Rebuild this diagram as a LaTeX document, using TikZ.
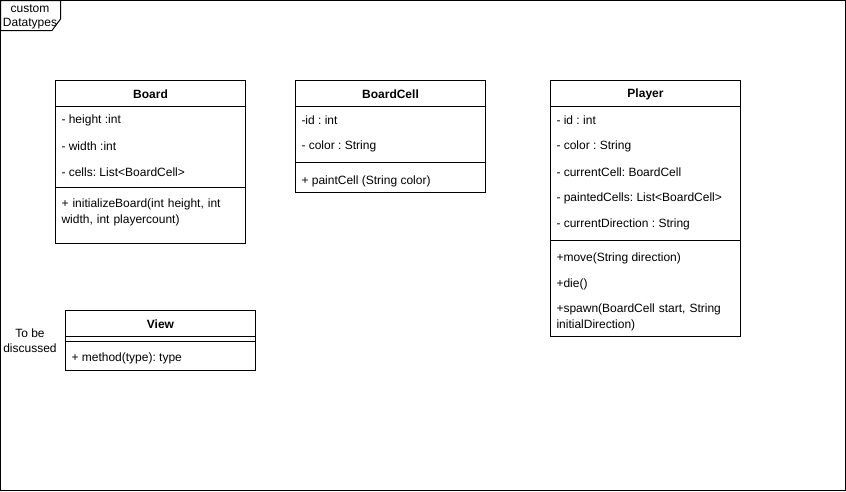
\documentclass[tikz,border=0pt]{standalone}
\usepackage{fontspec}
\setmainfont{Liberation Sans}
\frenchspacing
\begin{document}
\begin{tikzpicture}[x=1pt,y=-1pt,line width=1pt,
  every node/.style={font=\fontsize{12}{16}\selectfont\frenchspacing,inner sep=0pt},
  box/.style={draw=black,fill=white},
  title/.style={font=\fontsize{12}{14}\selectfont\bfseries,anchor=center},
  item/.style={anchor=west},
  wrapitem/.style={anchor=north west,align=left,text width=180pt}]
\useasboundingbox (0,0) rectangle (846,491);
% frame
\draw[box] (0.5,0.5) rectangle (845.5,490.5);
\draw[fill=white] (0.5,0.5) -- (60.5,0.5) -- (60.5,19) -- (52,30.5) -- (0.5,30.5) -- cycle;
\node[align=center,font=\fontsize{12}{14}\selectfont] (tab) at (30,16.5) {custom\\Datatypes};
% Board
\draw[box] (55.5,80.5) rectangle (245.5,243.5);
\draw (55.5,106.5) -- (245.5,106.5);
\draw (55.5,187.5) -- (245.5,187.5);
\node[title] (board) at (150.5,94.5) {Board};
\node[item] (b1) at (61,120.5) {- height :int};
\node[item] (b2) at (61,146.5) {- width :int};
\node[item] (b3) at (61,172.5) {- cells: List<BoardCell>};
\node[wrapitem] (b4) at (61,198.5) {+ initializeBoard(int height, int\\width, int playercount)};
% BoardCell
\draw[box] (295.5,80.5) rectangle (485.5,192.5);
\draw (295.5,106.5) -- (485.5,106.5);
\draw (295.5,162.5) -- (485.5,162.5);
\node[title] (boardcell) at (390.5,94.5) {BoardCell};
\node[item] (c1) at (301,120.5) {-id : int};
\node[item] (c2) at (301,146.5) {- color : String};
\node[item] (c3) at (301,181.5) {+ paintCell (String color)};
% Player
\draw[box] (550.5,80.5) rectangle (740.5,336.5);
\draw (550.5,106.5) -- (740.5,106.5);
\draw (550.5,240.5) -- (740.5,240.5);
\node[title] (player) at (645.5,94.5) {Player};
\node[item] (p1) at (556,120.5) {- id : int};
\node[item] (p2) at (556,146.5) {- color : String};
\node[item] (p3) at (556,172.5) {- currentCell: BoardCell};
\node[item] (p4) at (556,198.5) {- paintedCells: List<BoardCell>};
\node[item] (p5) at (556,224.5) {- currentDirection : String};
\node[item] (p6) at (556,258.5) {+move(String direction)};
\node[item] (p7) at (556,284.5) {+die()};
\node[wrapitem] (p8) at (556,303.5) {+spawn(BoardCell start, String\\initialDirection)};
% View
\draw[box] (65.5,310.5) rectangle (255.5,370.5);
\draw (65.5,336.5) -- (255.5,336.5);
\draw (65.5,341.5) -- (255.5,341.5);
\node[title] (view) at (160.5,324.5) {View};
\node[item] (v1) at (71,358.5) {+ method(type): type};
% note
\node[align=center,font=\fontsize{12}{15}\selectfont] (note) at (30,341) {To be\\discussed};
\end{tikzpicture}
\end{document}
